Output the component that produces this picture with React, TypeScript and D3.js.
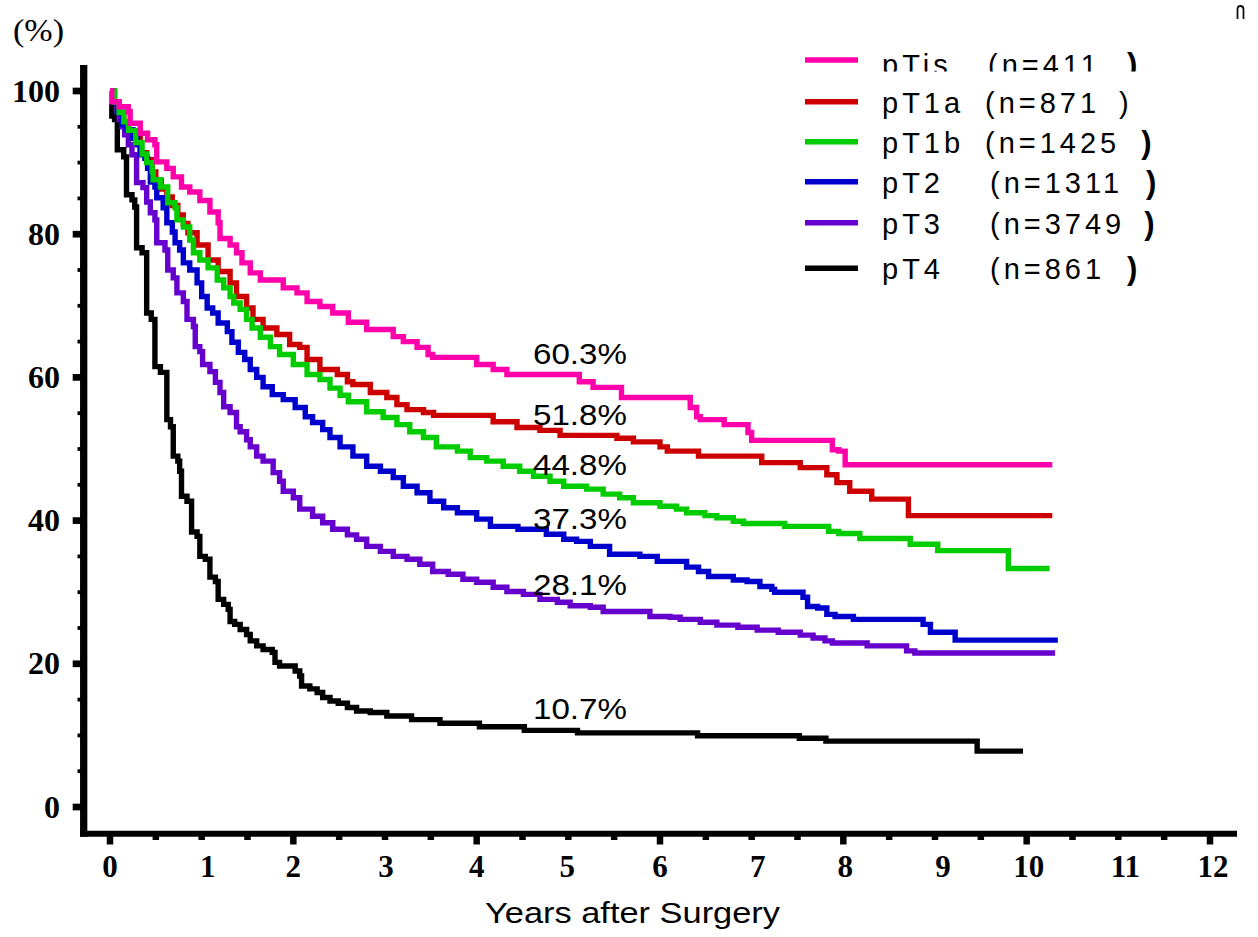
import React from 'react';
import * as d3 from 'd3';

type Pt = [number, number];

// ---- data ----
const groups = ['pTis', 'pT1a', 'pT1b', 'pT2', 'pT3', 'pT4'];
const counts = [411, 871, 1425, 1311, 3749, 861];
const boldParen = [true, false, true, true, true, true];
const fiveYear = ['60.3%', '51.8%', '44.8%', '37.3%', '28.1%', '10.7%'];
const fiveYearValue = [60.3, 51.8, 44.8, 37.3, 28.1, 10.7];
const colors = ['#ff00aa', '#cc0000', '#00cc00', '#0000cc', '#6600cc', '#000000'];
const xTicks = [0, 1, 2, 3, 4, 5, 6, 7, 8, 9, 10, 11, 12];
const yTicks = [0, 20, 40, 60, 80, 100];

const pTis: Pt[] = [[0,100],[0.02,98.5],[0.1,97.8],[0.2,97.1],[0.22,95.5],[0.33,94.1],[0.41,93.2],[0.49,92.5],[0.51,90.1],[0.62,89.2],[0.69,88.0],[0.78,86.6],[0.87,85.9],[0.98,84.7],[1.09,83.1],[1.18,81.6],[1.2,79.4],[1.31,78.5],[1.38,77.4],[1.44,76.0],[1.53,74.6],[1.64,73.6],[1.89,72.5],[2.04,71.8],[2.15,70.6],[2.29,69.9],[2.43,69.0],[2.6,67.7],[2.8,66.7],[3.09,65.7],[3.2,65.0],[3.35,64.2],[3.47,63.2],[3.52,62.8],[4.0,61.8],[4.18,61.1],[4.33,60.4],[5.12,59.4],[5.27,58.6],[5.58,57.2],[6.33,55.8],[6.4,54.5],[6.44,54.1],[6.7,53.4],[6.96,52.3],[7.0,51.2],[7.88,49.9],[7.95,49.7],[8.02,47.8],[10.28,47.8]];
const pT1a: Pt[] = [[0,100],[0.05,98.5],[0.1,97],[0.15,95.5],[0.2,94.5],[0.25,93.5],[0.33,91.4],[0.4,90.4],[0.46,88.7],[0.5,87.5],[0.56,86.3],[0.62,85.2],[0.68,84],[0.74,82.7],[0.8,81.5],[0.85,80.2],[0.95,78.5],[1.07,76.4],[1.18,74.8],[1.31,73.2],[1.38,71.3],[1.49,69.7],[1.56,68.1],[1.67,66.9],[1.82,66.0],[1.96,64.6],[2.07,64.2],[2.15,62.5],[2.29,61.1],[2.48,60.4],[2.59,59.4],[2.65,59.0],[2.84,57.9],[3.02,57.2],[3.13,56.2],[3.24,55.5],[3.42,55.1],[3.53,54.7],[4.18,53.8],[4.44,53.0],[4.69,52.6],[4.91,51.9],[5.53,51.5],[5.71,51.0],[6.0,50.3],[6.08,49.7],[6.42,49.0],[7.11,48.1],[7.53,47.4],[7.82,46.4],[7.93,45.3],[8.07,44.1],[8.31,43.0],[8.71,40.7],[10.28,40.7]];
const pT1b: Pt[] = [[0,100],[0.05,98.5],[0.1,97],[0.15,95.7],[0.2,94.5],[0.28,92.8],[0.35,91.2],[0.4,90.0],[0.46,88.7],[0.47,87.6],[0.55,86.6],[0.63,84.4],[0.71,83.7],[0.73,82.0],[0.8,81.0],[0.87,79.2],[0.91,77.4],[0.98,76.4],[1.07,75.3],[1.17,73.6],[1.24,72.5],[1.31,71.3],[1.35,70.4],[1.42,69.5],[1.49,68.1],[1.55,66.9],[1.64,65.6],[1.75,64.3],[1.85,63.2],[2.0,61.8],[2.15,60.4],[2.29,59.7],[2.4,58.5],[2.51,57.5],[2.6,56.6],[2.8,55.2],[2.98,54.4],[3.13,53.4],[3.27,52.4],[3.42,51.6],[3.56,50.3],[3.79,49.7],[3.93,48.8],[4.11,48.3],[4.29,47.6],[4.47,46.9],[4.62,46.2],[4.8,45.5],[4.95,44.8],[5.2,44.4],[5.38,43.7],[5.56,43.2],[5.71,42.5],[6.0,42.0],[6.18,41.6],[6.29,41.1],[6.49,40.7],[6.62,40.4],[6.8,39.9],[6.91,39.6],[7.36,39.2],[7.84,38.5],[7.95,38.2],[8.18,37.5],[8.73,36.7],[9.03,35.8],[9.8,33.3],[10.25,33.3]];
const pT2: Pt[] = [[0,100],[0.03,98.5],[0.08,97],[0.13,95.3],[0.18,94.6],[0.25,93.4],[0.3,92.5],[0.33,91.1],[0.38,90.6],[0.41,89.2],[0.44,87.3],[0.49,86.6],[0.51,85.1],[0.58,83.7],[0.62,81.6],[0.68,80.3],[0.71,78.8],[0.76,77.8],[0.8,76.0],[0.87,75.0],[0.95,73.2],[1.0,71.3],[1.06,69.7],[1.12,69.0],[1.18,67.6],[1.28,66.4],[1.33,64.9],[1.4,63.5],[1.47,62.5],[1.53,61.1],[1.6,60.0],[1.67,58.7],[1.77,57.6],[1.89,56.9],[2.02,55.8],[2.13,54.5],[2.21,53.7],[2.32,52.7],[2.4,51.6],[2.51,50.3],[2.65,49.0],[2.8,47.6],[2.95,46.9],[3.09,46.0],[3.2,44.8],[3.35,43.9],[3.49,42.7],[3.64,41.8],[3.79,41.1],[4.0,40.2],[4.15,39.2],[4.45,38.8],[4.76,38.1],[4.95,37.4],[5.09,37.1],[5.24,36.4],[5.45,35.3],[5.78,35.0],[5.97,34.3],[6.29,33.5],[6.42,32.9],[6.53,32.2],[6.8,31.7],[6.95,31.5],[7.09,30.8],[7.22,30.4],[7.25,30.0],[7.56,29.3],[7.61,28.0],[7.72,27.8],[7.82,26.9],[7.91,26.6],[8.11,26.2],[8.87,25.5],[8.95,24.4],[9.22,23.3],[10.34,23.3]];
const pT3: Pt[] = [[0,100],[0.04,98.5],[0.08,97.1],[0.1,96.0],[0.13,95.0],[0.16,93.9],[0.2,92.5],[0.24,91.1],[0.29,87.2],[0.36,86.5],[0.4,84.5],[0.44,83.0],[0.49,82.0],[0.51,78.8],[0.6,77.8],[0.63,75.0],[0.69,73.9],[0.73,71.8],[0.8,70.6],[0.84,68.1],[0.91,67.1],[0.93,64.3],[0.98,63.6],[1.01,61.8],[1.09,60.8],[1.15,59.3],[1.2,57.9],[1.24,55.9],[1.31,55.1],[1.38,53.1],[1.42,52.4],[1.49,51.3],[1.53,50.3],[1.6,49.0],[1.67,48.3],[1.78,46.7],[1.85,45.5],[1.89,44.1],[2.0,43.2],[2.07,41.6],[2.21,40.6],[2.32,39.7],[2.43,38.8],[2.59,38.0],[2.69,37.4],[2.8,36.4],[2.95,35.7],[3.09,35.0],[3.24,34.6],[3.38,33.9],[3.52,32.9],[3.69,32.5],[3.85,31.8],[4.0,31.4],[4.18,30.7],[4.33,30.1],[4.51,29.7],[4.69,29.0],[4.88,28.6],[5.02,28.1],[5.24,27.9],[5.38,27.3],[5.89,26.6],[6.11,26.5],[6.22,26.2],[6.44,25.8],[6.62,25.4],[6.85,25.1],[7.06,24.7],[7.29,24.4],[7.53,24.0],[7.67,23.6],[7.8,23.2],[7.88,22.9],[8.26,22.5],[8.69,21.8],[8.78,21.5],[10.31,21.5]];
const pT4: Pt[] = [[0,98.2],[0.02,96.5],[0.05,96.0],[0.08,91.8],[0.15,90.8],[0.18,85.5],[0.24,84.8],[0.27,83.8],[0.29,78.1],[0.35,77.4],[0.4,69.0],[0.45,68.1],[0.49,61.5],[0.55,60.7],[0.62,54.1],[0.66,53.1],[0.69,49.0],[0.74,48.3],[0.76,46.9],[0.78,43.4],[0.84,42.7],[0.89,38.4],[0.95,37.8],[0.98,35.0],[1.04,34.6],[1.09,32.1],[1.15,31.5],[1.18,29.0],[1.24,28.3],[1.29,27.6],[1.31,25.9],[1.36,25.5],[1.42,24.8],[1.49,24.1],[1.53,23.2],[1.6,22.5],[1.67,22.0],[1.77,21.6],[1.8,20.2],[1.85,19.7],[2.02,19.0],[2.07,18.3],[2.09,16.9],[2.18,16.5],[2.26,16.0],[2.32,15.3],[2.4,14.8],[2.49,14.5],[2.59,13.9],[2.69,13.4],[2.84,13.2],[3.02,12.7],[3.29,12.2],[3.6,11.7],[4.03,11.2],[4.52,10.7],[5.1,10.35],[6.41,9.95],[7.52,9.6],[7.81,9.2],[9.46,7.8],[9.96,7.8]];

const series: Pt[][] = [pTis, pT1a, pT1b, pT2, pT3, pT4];
const drawOrder = [5, 1, 4, 3, 2, 0];

// ---- layout ----
const W = 1258;
const H = 937;
const x = d3.scaleLinear().domain([0, 12]).range([110, 1210]);
const y = d3.scaleLinear().domain([0, 100]).range([807, 91]);
const line = d3
  .line<Pt>()
  .x((d) => x(d[0]))
  .y((d) => y(d[1]))
  .curve(d3.curveStepAfter);

const xLabelNudge = [0, 6, 0, 1, 0, -1, 0, 6, 2, 8, 2, 7, 3];
const legendY = [60, 101.7, 141.7, 181.7, 222.7, 268.3];
const legendParenX = [988, 985, 985, 990, 990, 990];
const legendParenDx = [26, 19, 21, 23, 19, 22];

const xMinor = d3.range(0, 12.01, 0.5);
const yMinor = d3.range(0, 100.01, 5).filter((v) => v % 20 !== 0);

const sans = 'Liberation Sans, Arial, sans-serif';
const serif = 'Liberation Serif, Times New Roman, serif';

export default function App() {
  return (
    <svg
      width={W}
      height={H}
      viewBox={`0 0 ${W} ${H}`}
      style={{ position: 'absolute', left: 0, top: 0, background: '#fff' }}
    >
      <defs>
        <clipPath id="row1clip">
          <rect x={870} y={0} width={320} height={71.5} />
        </clipPath>
      </defs>
      <rect width={W} height={H} fill="#fff" />

      {/* stray glyph top right */}
      <path d="M1237.5,19 L1237.5,9.5 Q1237.5,6 1240.5,6 Q1243.5,6 1243.5,9.5 L1243.5,19" fill="none" stroke="#111" strokeWidth={1.8} />

      {/* (%) */}
      <text x={13} y={41} fontFamily={serif} fontSize={32} textLength={51} lengthAdjust="spacingAndGlyphs">(%)</text>

      {/* y axis */}
      <line x1={83.7} x2={83.7} y1={65} y2={836.7} stroke="#000" strokeWidth={7.3} />
      {yTicks.map((v) => (
        <line key={'yt' + v} x1={72.7} x2={84} y1={y(v)} y2={y(v)} stroke="#000" strokeWidth={6.7} />
      ))}
      {yMinor.map((v) => (
        <line key={'ym' + v} x1={77.5} x2={84} y1={y(v)} y2={y(v)} stroke="#000" strokeWidth={3.8} />
      ))}
      {yTicks.map((v) => (
        <text key={'yl' + v} x={60} y={y(v) + 10.5} textAnchor="end" fontFamily={serif} fontWeight="bold" fontSize={32}>
          {v}
        </text>
      ))}

      {/* x axis */}
      <line x1={80} x2={1237} y1={833.7} y2={833.7} stroke="#000" strokeWidth={6} />
      {xMinor.map((t) => (
        <line key={'xm' + t} x1={x(t)} x2={x(t)} y1={836} y2={t % 2 === 0 ? 844.5 : 840} stroke="#000" strokeWidth={6.5} />
      ))}
      {xTicks.map((t, i) => (
        <text key={'xl' + t} x={x(t) + xLabelNudge[i]} y={877} textAnchor="middle" fontFamily={serif} fontWeight="bold" fontSize={31}>
          {t}
        </text>
      ))}
      <text x={632.5} y={923} textAnchor="middle" fontFamily={sans} fontSize={29} textLength={295} lengthAdjust="spacingAndGlyphs">
        Years after Surgery
      </text>

      {/* curves */}
      {drawOrder.map((i) => (
        <path key={'c' + i} d={line(series[i]) || ''} fill="none" stroke={colors[i]} strokeWidth={5.4} strokeLinejoin="miter" strokeLinecap="butt" />
      ))}

      {/* 5-year labels */}
      {fiveYear.map((s, i) => (
        <text key={'fy' + i} x={533} y={y(fiveYearValue[i]) - 11} fontFamily={sans} fontSize={30} textLength={94} lengthAdjust="spacingAndGlyphs">
          {s}
        </text>
      ))}

      {/* legend */}
      {groups.map((g, i) => {
        const base = i === 0 ? 74.5 : legendY[i] + 11;
        return (
          <g key={'lg' + i}>
            <line x1={805} x2={858} y1={legendY[i]} y2={legendY[i]} stroke={colors[i]} strokeWidth={5.5} />
            <g clipPath={i === 0 ? 'url(#row1clip)' : undefined}>
              <text x={882} y={base} fontFamily={sans} fontSize={29} letterSpacing={4}>
                {g}
              </text>
              <text x={legendParenX[i]} y={base} fontFamily={sans} fontSize={29} letterSpacing={4}>
                {'(n=' + counts[i]}
                <tspan dx={legendParenDx[i]} fontWeight={boldParen[i] ? 'bold' : 'normal'} fontSize={boldParen[i] ? 31 : 29}>
                  )
                </tspan>
              </text>
            </g>
          </g>
        );
      })}
    </svg>
  );
}
